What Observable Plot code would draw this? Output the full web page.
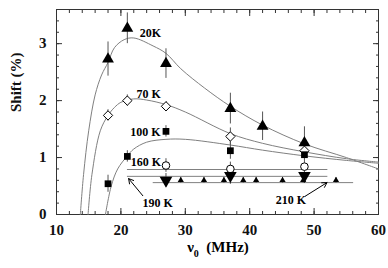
<!DOCTYPE html>
<html>
<head>
<meta charset="utf-8">
<script src="https://cdn.jsdelivr.net/npm/d3@7"></script>
<script src="https://cdn.jsdelivr.net/npm/@observablehq/plot@0.6"></script>
<style>
html,body{margin:0;padding:0;background:#fff;}
</style>
</head>
<body>
<div id="chart"></div>
<script>
// ---- measured points ----
const f20 = [18, 21, 27, 37, 42, 48.5];
const s20 = [2.73, 3.27, 2.65, 1.86, 1.55, 1.26];
const e20 = [0.3, 0.27, 0.26, 0.27, 0.25, 0.28];

const f70 = [18, 21, 27, 37, 48.5];
const s70 = [1.74, 2.0, 1.9, 1.37, 1.12];
const e70 = [0.1, 0.1, 0.08, 0.15, 0.12];

const f100 = [18, 21, 27, 37, 48.5];
const s100 = [0.54, 1.02, 1.46, 1.12, 1.05];
const e100 = [0.15, 0.1, 0.1, 0.15, 0.1];

const f160 = [27, 37, 48.5];
const s160 = [0.86, 0.8, 0.84];
const e160 = [0.12, 0.12, 0.12];

const f190 = [27, 37, 48.5];
const s190 = [0.6, 0.68, 0.68];
const e190 = [0.12, 0.15, 0.12];

const f210 = [29.3, 32.9, 36, 39, 41, 45.1, 48.3, 53.4];
const s210 = [0.6, 0.6, 0.6, 0.6, 0.6, 0.6, 0.6, 0.6];
const e210 = [0.05, 0.05, 0.05, 0.05, 0.05, 0.05, 0.05, 0.05];

// ---- fitted curves ----
const c20x = [13.7, 14.2, 15, 16, 17, 18, 19, 20.5, 22, 25, 27, 29.3, 33, 37, 42, 48.5, 55, 60];
const c20y = [0, 0.7, 1.47, 2.1, 2.45, 2.67, 2.93, 3.07, 3.1, 2.96, 2.83, 2.56, 2.22, 1.9, 1.57, 1.24, 1.0, 0.8];
const c70x = [14.9, 15.5, 16.8, 18, 19, 20, 22, 24, 27, 30, 37, 42, 48.5, 55, 60];
const c70y = [0, 0.7, 1.47, 1.74, 1.88, 1.97, 2.03, 2.01, 1.93, 1.8, 1.42, 1.25, 1.1, 0.98, 0.92];
const c100x = [17.6, 18.5, 19.5, 21, 22, 24, 27, 30, 37, 42, 48.5, 55, 60];
const c100y = [0, 0.5, 0.8, 1.03, 1.15, 1.27, 1.32, 1.32, 1.22, 1.13, 1.03, 0.95, 0.9];
const c160x = [21, 52];
const c160y = [0.79, 0.79];
const c190x = [21, 52];
const c190y = [0.67, 0.67];
const c210x = [25, 56];
const c210y = [0.56, 0.56];

// ---- labels & arrows ----
const labelText = ["20K", "70 K", "100 K", "160 K", "190 K", "210 K"];
const labelX = [24.6, 24.3, 23.8, 23.9, 25.7, 46.4];
const labelY = [3.18, 2.12, 1.44, 0.92, 0.2, 0.25];
const arrowX1 = [23.4, 48.6];
const arrowY1 = [0.33, 0.32];
const arrowX2 = [21.2, 52.0];
const arrowY2 = [0.63, 0.56];

const xMajor = [10, 20, 30, 40, 50, 60];
const xMinor = d3.range(10, 61, 2);
const yMajor = [0, 1, 2, 3];
const yMinor = d3.range(0, 3.61, 0.2);

const pts = (f, s, e) => f.map((x, i) => ({x, y: s[i], e: e[i]}));
const crv = (xs, ys) => xs.map((x, i) => ({x, y: ys[i]}));

const d20 = pts(f20, s20, e20), d70 = pts(f70, s70, e70), d100 = pts(f100, s100, e100),
      d160 = pts(f160, s160, e160), d190 = pts(f190, s190, e190), d210 = pts(f210, s210, e210);
const labels = labelText.map((t, i) => ({t, x: labelX[i], y: labelY[i]}));
const arrows = arrowX1.map((x1, i) => ({x1, y1: arrowY1[i], x2: arrowX2[i], y2: arrowY2[i]}));

const triDown = {
  draw(context, size) {
    const y = Math.sqrt(size / (Math.sqrt(3) * 3));
    context.moveTo(0, y * 2);
    context.lineTo(-Math.sqrt(3) * y, -y);
    context.lineTo(Math.sqrt(3) * y, -y);
    context.closePath();
  }
};

const lineColor = "#808080";
const font = "'Liberation Serif', 'DejaVu Serif', serif";
const err = (d) => Plot.ruleX(d, {x: "x", y1: (p) => p.y - p.e, y2: (p) => p.y + p.e, stroke: "#555", strokeWidth: 1});

const plot = Plot.plot({
  width: 388,
  height: 268,
  marginLeft: 56,
  marginRight: 10,
  marginTop: 9,
  marginBottom: 54,
  style: {fontFamily: font, fontWeight: "bold", fontSize: "15px", color: "#111", background: "#fff"},
  x: {domain: [10, 60]},
  y: {domain: [0, 3.6]},
  marks: [
    Plot.frame({stroke: "#333", strokeWidth: 1}),
    // minor ticks
    Plot.axisX(xMinor, {anchor: "bottom", tickSize: -3, tickFormat: () => "", label: null, stroke: "#333"}),
    Plot.axisX(xMinor, {anchor: "top", tickSize: -3, tickFormat: () => "", label: null, stroke: "#333"}),
    Plot.axisY(yMinor, {anchor: "left", tickSize: -3, tickFormat: () => "", label: null, stroke: "#333"}),
    Plot.axisY(yMinor, {anchor: "right", tickSize: -3, tickFormat: () => "", label: null, stroke: "#333"}),
    // major ticks
    Plot.axisX(xMajor, {anchor: "bottom", tickSize: -6, tickFormat: () => "", label: null, stroke: "#333"}),
    Plot.axisX(xMajor, {anchor: "top", tickSize: -6, tickFormat: () => "", label: null, stroke: "#333"}),
    Plot.axisY(yMajor, {anchor: "left", tickSize: -6, tickFormat: () => "", label: null, stroke: "#333"}),
    Plot.axisY(yMajor, {anchor: "right", tickSize: -6, tickFormat: () => "", label: null, stroke: "#333"}),
    // tick labels
    Plot.axisX(xMajor, {anchor: "bottom", tickSize: 0, tickPadding: 10, tickFormat: d3.format("d"), label: null, fontWeight: "bold"}),
    Plot.axisY(yMajor, {anchor: "left", tickSize: 0, tickPadding: 10, tickFormat: d3.format("d"), label: null, fontWeight: "bold"}),
    // y axis title
    Plot.text(["Shift (%)"], {frameAnchor: "left", dx: -40, rotate: -90, text: (d) => d, fontSize: 15, fontWeight: "bold", fontFamily: font}),
    // curves
    Plot.line(crv(c20x, c20y), {x: "x", y: "y", stroke: lineColor, strokeWidth: 1, curve: "catmull-rom"}),
    Plot.line(crv(c70x, c70y), {x: "x", y: "y", stroke: lineColor, strokeWidth: 1, curve: "catmull-rom"}),
    Plot.line(crv(c100x, c100y), {x: "x", y: "y", stroke: lineColor, strokeWidth: 1, curve: "catmull-rom"}),
    Plot.line(crv(c160x, c160y), {x: "x", y: "y", stroke: lineColor, strokeWidth: 1}),
    Plot.line(crv(c190x, c190y), {x: "x", y: "y", stroke: lineColor, strokeWidth: 1}),
    Plot.line(crv(c210x, c210y), {x: "x", y: "y", stroke: lineColor, strokeWidth: 1}),
    // error bars
    err(d20), err(d70), err(d100), err(d160), err(d190), err(d210),
    // markers
    Plot.dot(d20, {x: "x", y: "y", symbol: "triangle", r: 4.4, fill: "#000", stroke: "none"}),
    Plot.dot(d70, {x: "x", y: "y", symbol: "diamond2", r: 4.2, fill: "#fff", stroke: "#000", strokeWidth: 1}),
    Plot.dot(d100, {x: "x", y: "y", symbol: "square", r: 3.8, fill: "#000", stroke: "none"}),
    Plot.dot(d160, {x: "x", y: "y", symbol: "circle", r: 3.8, fill: "#fff", stroke: "#000", strokeWidth: 1}),
    Plot.dot(d190, {x: "x", y: "y", symbol: triDown, r: 4.7, fill: "#000", stroke: "none"}),
    Plot.dot(d210, {x: "x", y: "y", symbol: "triangle", r: 2.3, fill: "#000", stroke: "none"}),
    // labels
    Plot.text(labels, {x: "x", y: "y", text: "t", fontSize: 12, fontWeight: "bold", fontFamily: font, fill: "#000"}),
    Plot.arrow(arrows, {x1: "x1", y1: "y1", x2: "x2", y2: "y2", stroke: "#000", strokeWidth: 1, headLength: 8})
  ]
});

// x axis title with subscript
const svg = d3.select(plot);
const t = svg.append("text")
  .attr("x", 218).attr("y", 252)
  .attr("text-anchor", "middle")
  .attr("font-family", font).attr("font-weight", "bold").attr("font-size", 15).attr("fill", "#000");
t.append("tspan").text("ν");
t.append("tspan").attr("font-size", 10).attr("dy", 5).text("0");
t.append("tspan").attr("dy", -5).text("\u2002(MHz)");

document.getElementById("chart").appendChild(plot);
</script>
</body>
</html>
